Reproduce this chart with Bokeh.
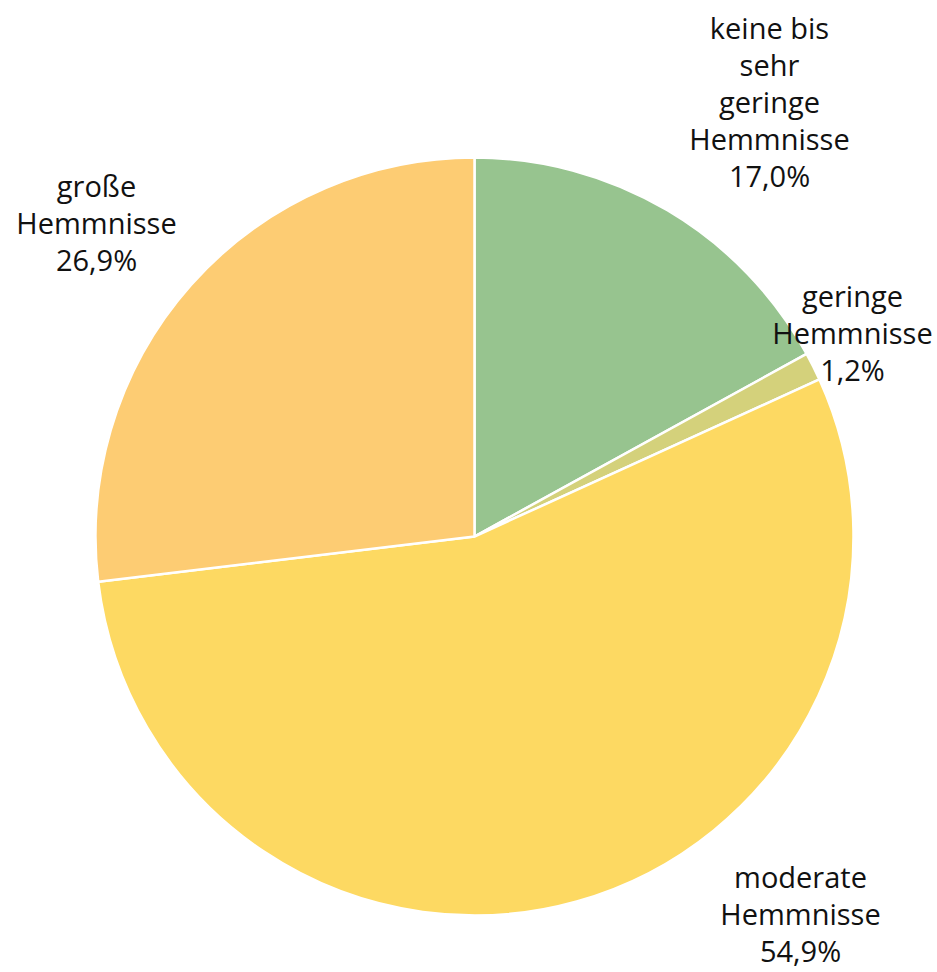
from math import pi

from bokeh.core.properties import value
from bokeh.embed import file_html
from bokeh.models import ColumnDataSource, Range1d
from bokeh.plotting import figure
from bokeh.resources import INLINE

# Survey result: share of respondents by level of obstacles (Hemmnisse)
categories = [
    "keine bis\nsehr\ngeringe\nHemmnisse",
    "geringe\nHemmnisse",
    "moderate\nHemmnisse",
    "große\nHemmnisse",
]
shares = [17.0, 1.2, 54.9, 26.9]
colors = ["#97C48F", "#D4D17B", "#FDD962", "#FDCC73"]

# Label anchors (centre of each label block, canvas units, y measured upward)
label_x = [769, 852, 800, 96]
label_y = [871, 640, 59, 750]

W, H = 937, 972
cx, cy, radius = 474, 436, 379

total = sum(shares)
start_angles, end_angles = [], []
acc = 0.0
for s in shares:
    # clockwise from 12 o'clock
    a0 = pi / 2 - 2 * pi * acc / total
    acc += s
    a1 = pi / 2 - 2 * pi * acc / total
    start_angles.append(a0)
    end_angles.append(a1)

labels = [f"{c}\n{s:.1f}%".replace(".", ",") for c, s in zip(categories, shares)]

src = ColumnDataSource(dict(
    start=start_angles, end=end_angles, color=colors,
    lx=label_x, ly=label_y, label=labels,
))

p = figure(
    width=W, height=H, output_backend="svg", toolbar_location=None,
    x_range=Range1d(0, W), y_range=Range1d(0, H),
    x_axis_location=None, y_axis_location=None,
    min_border=0, outline_line_color=None,
    background_fill_color="white", border_fill_color="white",
)
p.grid.visible = False

p.wedge(
    x=cx, y=cy, radius=radius, radius_units="screen",
    start_angle="start", end_angle="end", direction="clock",
    fill_color="color", line_color="white", line_width=2.5,
    source=src,
)

p.text(
    x="lx", y="ly", text="label", source=src,
    text_align="center", text_baseline="middle",
    text_font=value("Open Sans"), text_font_size="29px",
    text_color="#111111", text_line_height=0.95,
)

open("out.html", "w").write(file_html(p, INLINE))
